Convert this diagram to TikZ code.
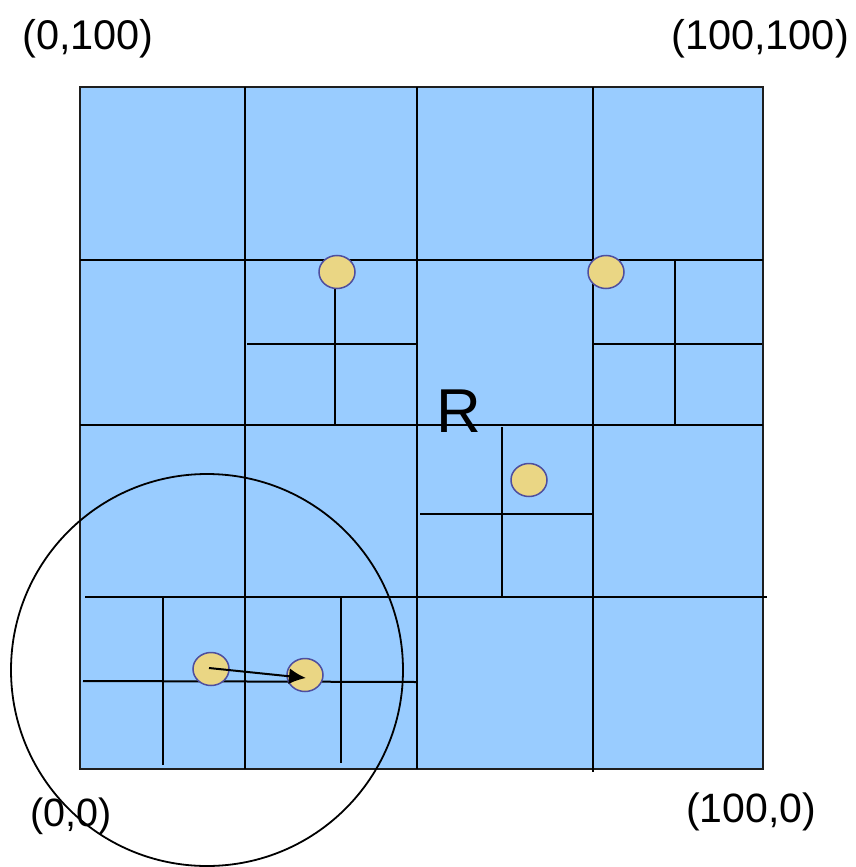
\documentclass[tikz,border=0pt]{standalone}
\usepackage{fontspec}
\setmainfont{Liberation Sans}
\usetikzlibrary{shapes.geometric,arrows.meta}
\definecolor{cellblue}{RGB}{153,204,255}
\definecolor{dotfill}{RGB}{234,214,132}
\definecolor{dotline}{RGB}{78,78,158}
\tikzset{
  grid line/.style={line width=2pt, black},
  border/.style={line width=2.6pt, draw={rgb,255:red,30;green,30;blue,30}, fill=cellblue},
  point/.style={ellipse, draw=dotline, fill=dotfill, line width=1.5pt, minimum width=36pt, minimum height=33pt, inner sep=0pt},
  coordlabel/.style={font=\fontsize{41.5}{48}\selectfont, inner sep=0pt, anchor=base west},
  rlabel/.style={font=\fontsize{62}{70}\selectfont, inner sep=0pt, anchor=base west},
  rangecircle/.style={line width=1.8pt, black},
  nnarrow/.style={line width=2pt, -{Latex[length=17pt,width=16pt]}}
}
\begin{document}
\begin{tikzpicture}[x=1pt,y=-1pt]
\useasboundingbox (0,0) rectangle (856,867);
% outer square
\draw[border] (80,87) rectangle (763,769);
% main grid
\draw[grid line] (245,87) -- (245,769);
\draw[grid line] (417,87) -- (417,769);
\draw[grid line] (593,87) -- (593,772);
\draw[grid line] (80,260) -- (763,260);
\draw[grid line] (80,425) -- (763,425);
\draw[grid line] (85,597) -- (767,597);
% subdivisions
\draw[grid line] (335,261) -- (335,426);
\draw[grid line] (247,344) -- (416,344);
\draw[grid line] (675,260) -- (675,425);
\draw[grid line] (593,344) -- (762,344);
\draw[grid line] (502,427) -- (502,597);
\draw[grid line] (420,514) -- (593,514);
\draw[grid line] (83,681) -- (417,682);
\draw[grid line] (163,597) -- (163,765);
\draw[grid line] (341,597) -- (341,763);
% points
\node[point] (p1) at (337,272) {};
\node[point] (p2) at (606,272) {};
\node[point] (p3) at (529,480) {};
\node[point] (q) at (211,669) {};
\node[point] (nn) at (305,675) {};
% range circle
\coordinate (cc) at (207,670);
\draw[rangecircle] (cc) circle (196);
% arrow
\coordinate (qs) at (209,668);
\coordinate (nt) at (306,678);
\draw[nnarrow] (qs) -- (nt);
% labels
\node[rlabel] (R) at (436,432) {R};
\node[coordlabel] (l1) at (22,49) {(0,100)};
\node[coordlabel] (l2) at (671,49) {(100,100)};
\node[coordlabel, font=\fontsize{39.5}{48}\selectfont] (l3) at (30,826) {(0,0)};
\node[coordlabel, font=\fontsize{41}{48}\selectfont] (l4) at (686,822) {(100,0)};
\end{tikzpicture}
\end{document}
